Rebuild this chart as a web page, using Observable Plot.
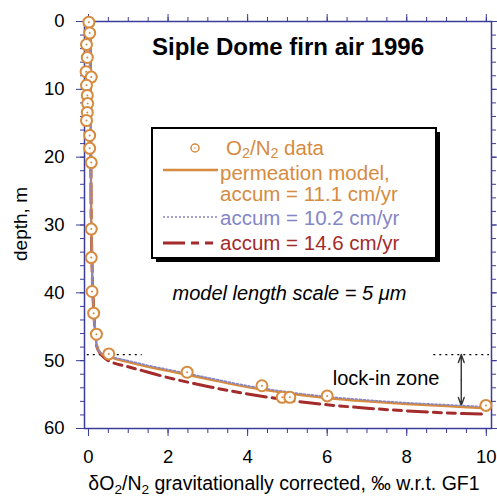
<!DOCTYPE html>
<html><head><meta charset="utf-8">
<script src="https://cdn.jsdelivr.net/npm/d3@7"></script>
<script src="https://cdn.jsdelivr.net/npm/@observablehq/plot@0.6"></script>
<style>
body{margin:0;background:#fff;}
#chart{width:497px;height:496px;}
</style></head><body><div id="chart"></div>
<script>
// ---- data ----
const dataDepth = [0.1, 1.7, 3.4, 5.3, 7.4, 8.2, 9.4, 10.9, 12.1, 13.4, 14.6, 16.8, 18.7, 20.8, 30.6, 34.8, 39.8, 43.0, 46.1, 49.0, 51.7, 53.7, 55.4, 55.4, 55.2, 56.6];
const dataO2N2  = [0.01, 0.03, -0.05, -0.03, -0.06, 0.07, -0.05, -0.03, -0.02, -0.03, -0.05, 0.03, 0.03, 0.07, 0.07, 0.07, 0.09, 0.13, 0.2, 0.51, 2.48, 4.36, 4.87, 5.06, 6.0, 9.99];

const model111X     = [0.04, 0.05, 0.06, 0.07, 0.09, 0.11, 0.14, 0.18, 0.24, 0.35, 0.55, 1.0, 1.5, 2.0, 2.5, 3.0, 4.0, 5.0, 6.0, 7.0, 8.0, 9.0, 10.0];
const model111Depth = [0, 10, 20, 30, 36, 40, 43.5, 46.5, 48.4, 49.1, 49.5, 50.2, 50.9, 51.5, 52.1, 52.7, 53.9, 54.8, 55.5, 56.0, 56.4, 56.7, 57.0];

const model102X     = [0.04, 0.05, 0.06, 0.07, 0.09, 0.11, 0.14, 0.18, 0.24, 0.35, 0.55, 1.0, 1.5, 2.0, 2.5, 3.0, 4.0, 5.0, 6.0, 7.0, 8.0, 9.0, 10.0];
const model102Depth = [0, 10, 20, 30, 36, 40, 43.5, 46.5, 48.4, 49.0, 49.4, 50.0, 50.7, 51.3, 51.9, 52.5, 53.7, 54.6, 55.3, 55.8, 56.2, 56.5, 56.8];

const model146X     = [0.04, 0.05, 0.06, 0.07, 0.09, 0.11, 0.14, 0.18, 0.24, 0.5, 1.0, 1.5, 2.0, 3.0, 4.0, 5.0, 6.0, 7.0, 8.0, 9.0, 10.0];
const model146Depth = [0, 10, 20, 30, 36, 40, 43.5, 46.5, 48.4, 50.0, 50.9, 51.7, 52.5, 53.8, 54.9, 55.8, 56.5, 57.0, 57.4, 57.7, 57.9];

const xTickValues = [0, 2, 4, 6, 8, 10];
const yTickValues = [0, 10, 20, 30, 40, 50, 60];
const xMinorTicks = d3.range(0, 10.01, 0.5);
const yMinorTicks = d3.range(0, 60.01, 2);

const lockInTop = 49.1, lockInBottom = 56.6, lockInArrowX = 9.37;
const lockInLineX1 = [-0.03, 8.68];
const lockInLineX2 = [1.35, 10.08];

const titleText = "Siple Dome firn air 1996";
const noteText = "model length scale = 5 \u03bcm";
const lockText = "lock-in zone";

// ---- styles ----
const axisColor = "#3c3c9a";
const orange = "#d68b3e";
const blue = "#8585c8";
const red = "#a32b2b";
const font = "'Liberation Sans', Arial, Helvetica, sans-serif";

const pts = dataDepth.map((d, i) => ({depth: d, v: dataO2N2[i]}));
const m111 = model111X.map((x, i) => ({x, depth: model111Depth[i]}));
const m102 = model102X.map((x, i) => ({x, depth: model102Depth[i]}));
const m146 = model146X.map((x, i) => ({x, depth: model146Depth[i]}));
const lockLines = lockInLineX1.map((x1, i) => ({x1, x2: lockInLineX2[i], y: lockInTop}));
const lockMid = (lockInTop + lockInBottom) / 2;
const arrows = [{x: lockInArrowX, from: lockMid, to: lockInTop}, {x: lockInArrowX, from: lockMid, to: lockInBottom}];

const plot = Plot.plot({
  width: 497, height: 496,
  marginLeft: 84, marginRight: 6, marginTop: 21, marginBottom: 68,
  x: {domain: [-0.1, 10.13]},
  y: {domain: [0, 60], reverse: true},
  style: {fontFamily: font, fontSize: "18px", background: "white", color: "black"},
  marks: [
    Plot.frame({stroke: axisColor, strokeWidth: 1.5}),
    Plot.axisX(xMinorTicks, {anchor: "bottom", tickSize: 5, fill: "none", stroke: axisColor, label: null}),
    Plot.axisX(xTickValues, {anchor: "bottom", tickSize: 8, fill: "none", stroke: axisColor, label: null}),
    Plot.axisX(xMinorTicks, {anchor: "top", tickSize: 5, fill: "none", stroke: axisColor, label: null}),
    Plot.axisX(xTickValues, {anchor: "top", tickSize: 8, fill: "none", stroke: axisColor, label: null}),
    Plot.axisY(yMinorTicks, {anchor: "left", tickSize: 4, fill: "none", stroke: axisColor, label: null}),
    Plot.axisY(yTickValues, {anchor: "left", tickSize: 8, fill: "none", stroke: axisColor, label: null}),
    Plot.axisY(yMinorTicks, {anchor: "right", tickSize: 4, fill: "none", stroke: axisColor, label: null}),
    Plot.axisY(yTickValues, {anchor: "right", tickSize: 8, fill: "none", stroke: axisColor, label: null}),
    Plot.axisX(xTickValues, {anchor: "bottom", tickSize: 0, tickPadding: 21, stroke: "none", fill: "black", fontSize: 18.5, label: null}),
    Plot.axisY(yTickValues, {anchor: "left", tickSize: 0, tickPadding: 20, stroke: "none", fill: "black", fontSize: 18.5, label: null}),
    Plot.ruleY(lockLines, {y: "y", x1: "x1", x2: "x2", stroke: "black", strokeWidth: 1.3, strokeDasharray: "2,4"}),
    Plot.arrow(arrows, {x1: "x", x2: "x", y1: "from", y2: "to", stroke: "#333", strokeWidth: 1.4, headLength: 14, headAngle: 40}),
    Plot.line(m146, {x: "x", y: "depth", stroke: red, strokeWidth: 3, strokeDasharray: "20,6,8,6,8,6", curve: "catmull-rom"}),
    Plot.line(m111, {x: "x", y: "depth", stroke: orange, strokeWidth: 2.5, curve: "catmull-rom"}),
    Plot.line(m102, {x: "x", y: "depth", stroke: blue, strokeWidth: 1.6, strokeDasharray: "2,2", curve: "catmull-rom"}),
    Plot.dot(pts, {x: "v", y: "depth", r: 5.5, stroke: orange, strokeWidth: 2, fill: "white"}),
    Plot.dot(pts, {x: "v", y: "depth", r: 1, fill: orange}),
    Plot.text([titleText], {frameAnchor: "top", lineAnchor: "middle", dy: 26, text: d => d, fontSize: 24, fontWeight: "bold", fill: "black"}),
    Plot.text([noteText], {x: 5.05, y: 40.1, text: d => d, fontSize: 20, fontStyle: "italic", fill: "black"}),
    Plot.text([lockText], {x: 7.48, y: 52.6, text: d => d, fontSize: 20, fill: "black"})
  ]
});

document.getElementById("chart").appendChild(plot);

// ---- axis titles & legend (pixel layout) ----
const svg = d3.select(plot);
svg.append("text")
  .attr("transform", "translate(20,224) rotate(-90)")
  .attr("text-anchor", "middle").attr("dy", "0.35em")
  .attr("font-size", 19).attr("fill", "black").text("depth, m");

function addSubText(sel, parts, shift) {
  const s = shift || 0.3;
  parts.forEach(p => {
    if (p.sub) sel.append("tspan").attr("font-size", "0.7em").attr("dy", s + "em").text(p.t);
    else sel.append("tspan").attr("dy", p.after ? (-s * 0.7) + "em" : null).text(p.t);
  });
}
const xl = svg.append("text").attr("x", 284).attr("y", 490)
  .attr("text-anchor", "middle").attr("font-size", 19.5).attr("fill", "black");
addSubText(xl, [{t: "\u03b4O"}, {t: "2", sub: true}, {t: "/N", after: true}, {t: "2", sub: true}, {t: " gravitationally corrected, \u2030 w.r.t. GF1", after: true}]);

const lg = svg.append("g").attr("font-size", 20.5).attr("text-anchor", "start");
lg.append("rect").attr("x", 156).attr("y", 132).attr("width", 284).attr("height", 130).attr("fill", "black");
lg.append("rect").attr("x", 152).attr("y", 128).attr("width", 284).attr("height", 130).attr("fill", "white").attr("stroke", "black").attr("stroke-width", 2);

lg.append("circle").attr("cx", 195).attr("cy", 148).attr("r", 4).attr("fill", "white").attr("stroke", orange).attr("stroke-width", 1.5);
lg.append("circle").attr("cx", 195).attr("cy", 148).attr("r", 0.8).attr("fill", orange);
const t1 = lg.append("text").attr("x", 226).attr("y", 154.5).attr("fill", orange);
addSubText(t1, [{t: "O"}, {t: "2", sub: true}, {t: "/N", after: true}, {t: "2", sub: true}, {t: " data", after: true}], 0.25);

lg.append("line").attr("x1", 163).attr("x2", 218).attr("y1", 170).attr("y2", 170).attr("stroke", orange).attr("stroke-width", 2.5);
lg.append("text").attr("x", 220).attr("y", 180).attr("fill", orange).text("permeation model,");
lg.append("text").attr("x", 220).attr("y", 201).attr("fill", orange).text("accum = 11.1 cm/yr");

lg.append("line").attr("x1", 163).attr("x2", 218).attr("y1", 217).attr("y2", 217).attr("stroke", blue).attr("stroke-width", 1.6).attr("stroke-dasharray", "2,2");
lg.append("text").attr("x", 220).attr("y", 224.5).attr("fill", blue).text("accum = 10.2 cm/yr");

lg.append("line").attr("x1", 163).attr("x2", 218).attr("y1", 243).attr("y2", 243).attr("stroke", red).attr("stroke-width", 3).attr("stroke-dasharray", "22,6,8,6,8");
lg.append("text").attr("x", 220).attr("y", 250).attr("fill", red).text("accum = 14.6 cm/yr");
</script>
</body></html>
